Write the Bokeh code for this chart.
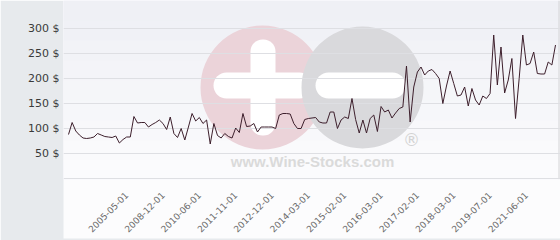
from bokeh.plotting import figure
from bokeh.models import Range1d, FixedTicker, PrintfTickFormatter, BoxAnnotation, Label, Span
from bokeh.embed import file_html
from bokeh.resources import INLINE

# ---- data ----
prices = [88, 112, 95, 87, 81, 80, 81, 83, 90, 87,
          84, 83, 82, 85, 71, 78, 83, 83, 124, 111,
          112, 112, 103, 108, 112, 117, 110, 98, 123, 90,
          82, 100, 77, 103, 130, 115, 122, 110, 117, 69,
          110, 86, 81, 90, 84, 81, 101, 92, 130, 104,
          105, 110, 93, 103, 103, 103, 103, 100, 127, 130,
          130, 129, 110, 100, 100, 118, 120, 121, 122, 113,
          111, 111, 133, 133, 100, 117, 123, 120, 160, 118,
          91, 117, 91, 120, 127, 94, 144, 133, 137, 121,
          131, 140, 143, 225, 113, 183, 213, 223, 207, 215,
          218, 210, 200, 150, 185, 215, 190, 165, 167, 183,
          145, 180, 157, 147, 165, 160, 170, 287, 187, 263,
          171, 197, 240, 120, 200, 287, 227, 230, 253, 210,
          209, 209, 233, 227, 267]
tick_index = [16, 26, 36, 46, 56, 66, 76, 86, 96, 106, 116, 126]
tick_labels = ["2005-05-01", "2008-12-01", "2010-06-01", "2011-11-01",
               "2012-12-01", "2014-03-01", "2015-02-01", "2016-03-01",
               "2017-02-01", "2018-03-01", "2019-07-01", "2021-06-01"]
y_ticks = [0, 50, 100, 150, 200, 250, 300]

# ---- layout ----
W, H = 560, 240
LEFT = 63
FRAME_H = 179
N = len(prices)
idx = list(range(N))
px_per_pt = 487 / (N - 1)
pad = 5 / px_per_pt
x_start, x_end = -pad, (N - 1) + pad
y_end = 356
y_start = y_end - FRAME_H * 2


def dx(px):
    return x_start + (px - LEFT) / px_per_pt


def dy(py):
    return y_end - py * 2


p = figure(width=W, height=H, output_backend="svg", toolbar_location=None,
           x_range=Range1d(x_start, x_end), y_range=Range1d(y_start, y_end),
           min_border_left=LEFT, min_border_right=0, min_border_top=0,
           min_border_bottom=H - FRAME_H)
p.border_fill_color = "#e7eaed"
p.background_fill_color = "#f6f6f9"
p.outline_line_color = None

# subtle vertical gradient of the plot area
top_rgb = (239, 240, 245)
bot_rgb = (251, 251, 253)
nb = 9
for k in range(nb):
    t = k / (nb - 1)
    c = tuple(int(round(a + (b - a) * t)) for a, b in zip(top_rgb, bot_rgb))
    p.add_layout(BoxAnnotation(top=dy(20 * k), bottom=dy(20 * k + 21),
                               fill_color="#%02x%02x%02x" % c, fill_alpha=1,
                               line_color=None, level="image"))
# area under the plot (behind the date labels)
p.add_layout(BoxAnnotation(left=x_start, right=x_end, top=y_start,
                           bottom=y_start - 200, fill_color="#fcfcfd",
                           fill_alpha=1, line_color=None, level="image"))

# watermark
def wm_box(l, r, t, b, rad, color):
    p.add_layout(BoxAnnotation(left=dx(l), right=dx(r), top=dy(t), bottom=dy(b),
                               border_radius=rad, fill_color=color, fill_alpha=1,
                               line_color=None, level="image"))

wm_box(200, 324, 25, 149, 62, "#ebd3d9")
wm_box(250, 275, 39, 135, 12, "#ffffff")
wm_box(213, 312, 72, 98, 13, "#ffffff")
wm_box(301, 423, 26, 148, 61, "#d9d9dc")
wm_box(315, 405, 72, 98, 13, "#ffffff")
p.add_layout(Label(x=dx(312), y=dy(161), text="www.Wine-Stocks.com",
                   text_align="center", text_baseline="middle",
                   text_font="Liberation Sans", text_font_style="bold",
                   text_font_size="15px", text_color="#dadada", level="image"))
p.add_layout(Label(x=dx(411), y=dy(139), text="®",
                   text_align="center", text_baseline="middle",
                   text_font="DejaVu Sans", text_font_size="17px",
                   text_color="#d3d3d3", level="image"))
p.add_layout(Span(location=dx(558.5), dimension="height",
                  line_color="#d4d4d6", line_width=1, level="image"))

p.line(idx, prices, line_color="#3d1f2c", line_width=1)

# grid
p.xgrid.grid_line_color = None
p.ygrid.grid_line_color = "#dedfe3"
p.ygrid.ticker = FixedTicker(ticks=y_ticks)

# y axis
ya = p.yaxis[0]
ya.ticker = FixedTicker(ticks=y_ticks)
ya.formatter = PrintfTickFormatter(format="%d $")
ya.major_label_overrides = {0: ""}
ya.axis_line_color = None
ya.major_tick_line_color = None
ya.minor_tick_line_color = None
ya.major_tick_out = 0
ya.major_label_standoff = 4
ya.major_label_text_font = "DejaVu Sans"
ya.major_label_text_font_size = "11px"
ya.major_label_text_color = "#3a3a3a"

# x axis
xa = p.xaxis[0]
xa.ticker = FixedTicker(ticks=tick_index)
xa.major_label_overrides = {i: s for i, s in zip(tick_index, tick_labels)}
xa.major_label_orientation = 0.785398
xa.axis_line_color = None
xa.major_tick_line_color = None
xa.minor_tick_line_color = None
xa.major_tick_out = 0
xa.major_label_standoff = 14
xa.major_label_text_font = "DejaVu Sans"
xa.major_label_text_font_size = "9px"
xa.major_label_text_color = "#6a6a6a"
xa.background_fill_color = "#fcfcfd"

open("out.html", "w").write(file_html(p, INLINE))
